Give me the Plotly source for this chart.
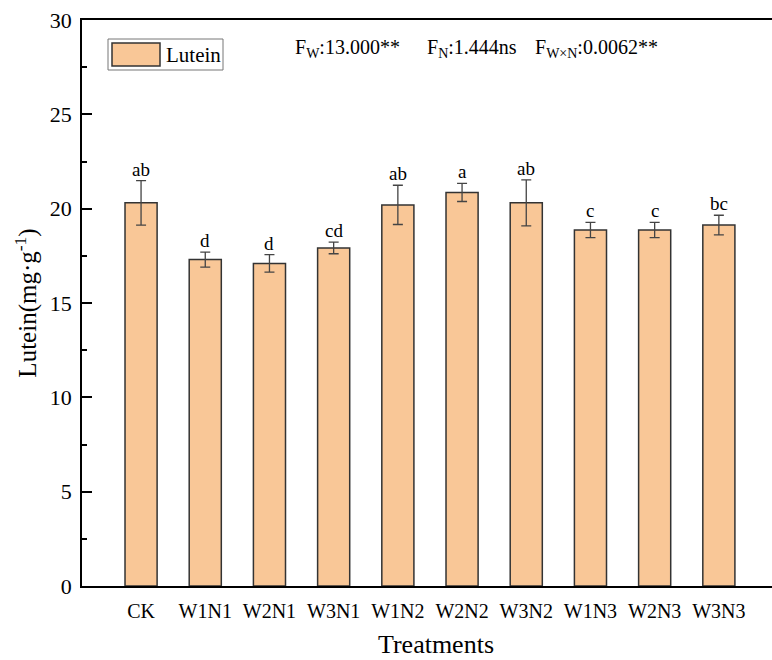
import plotly.graph_objects as go

treatments = ["CK", "W1N1", "W2N1", "W3N1", "W1N2", "W2N2", "W3N2", "W1N3", "W2N3", "W3N3"]
lutein = [20.31, 17.30, 17.10, 17.92, 20.20, 20.86, 20.31, 18.87, 18.87, 19.13]
errors = [1.18, 0.40, 0.46, 0.31, 1.04, 0.48, 1.22, 0.40, 0.40, 0.52]
letters = ["ab", "d", "d", "cd", "ab", "a", "ab", "c", "c", "bc"]
y_ticks = [0, 5, 10, 15, 20, 25, 30]

FONT = "Liberation Serif"
BAR = "#F9C797"
EDGE = "#333333"

W, H = 790, 660
L, R, T, B = 82, 0, 20, 74
pw, ph = W - L - R, H - T - B
unit = 64.2

def px(x):
    return (x - L) / pw

def py(y):
    return (H - B - y) / ph

fig = go.Figure()
fig.add_trace(go.Bar(
    x=list(range(len(treatments))), y=lutein, width=0.5,
    marker=dict(color=BAR, line=dict(color=EDGE, width=1.5)),
    error_y=dict(type="data", array=errors, visible=True, color="#444444", thickness=1.3, width=5),
    showlegend=False,
))

for i, (v, e, s) in enumerate(zip(lutein, errors, letters)):
    fig.add_annotation(x=i, y=v + e, text=s, showarrow=False, yanchor="bottom", xanchor="center",
                       font=dict(family=FONT, size=19, color="black"), yshift=-1)

# legend drawn manually
fig.add_shape(type="rect", xref="paper", yref="paper", x0=px(108), x1=px(223), y0=py(70), y1=py(39),
              line=dict(color="#777777", width=1), fillcolor="white")
fig.add_shape(type="rect", xref="paper", yref="paper", x0=px(112), x1=px(160), y0=py(66), y1=py(43),
              line=dict(color=EDGE, width=1.5), fillcolor=BAR)
fig.add_annotation(xref="paper", yref="paper", x=px(164), y=py(55), text="Lutein", showarrow=False,
                   xanchor="left", yanchor="middle", font=dict(family=FONT, size=21, color="black"))

fstats = ["F<sub>W</sub>:13.000**", "F<sub>N</sub>:1.444ns", "F<sub>W×N</sub>:0.0062**"]
fx = [293, 425, 533]
for t, x in zip(fstats, fx):
    fig.add_annotation(xref="paper", yref="paper", x=px(x), y=py(48), text=t, showarrow=False,
                       xanchor="left", yanchor="middle", font=dict(family=FONT, size=20, color="black"))

fig.update_layout(
    width=W, height=H, margin=dict(l=L, r=R, t=T, b=B, autoexpand=False),
    plot_bgcolor="white", paper_bgcolor="white",
    font=dict(family=FONT, color="black"),
    bargap=0.5,
)
fig.update_xaxes(
    range=[-0.92, -0.92 + pw / unit], tickmode="array", tickvals=list(range(len(treatments))), ticktext=treatments,
    showline=True, linecolor="black", linewidth=1.6, mirror=True, ticks="", showgrid=False, zeroline=False,
    tickfont=dict(family=FONT, size=20, color="black"), ticklabelstandoff=6, automargin=False,
    title=dict(text="Treatments", font=dict(family=FONT, size=26, color="black"), standoff=14),
)
fig.update_yaxes(
    range=[0, 30], tickmode="array", tickvals=y_ticks, ticktext=[str(v) for v in y_ticks],
    showline=True, linecolor="black", linewidth=1.6, mirror=False, ticks="inside", ticklen=10, tickwidth=1.5,
    tickcolor="black", showgrid=False, zeroline=False, automargin=False,
    minor=dict(ticks="inside", ticklen=5, tickwidth=1.5, tickcolor="black", dtick=2.5, tick0=0),
    tickfont=dict(family=FONT, size=22, color="black"), ticklabelstandoff=4,
    title=dict(text="Lutein(mg·g<sup>-1</sup>)", font=dict(family=FONT, size=25, color="black"), standoff=6),
)

fig.write_html("out.html", config={"displayModeBar": False},
               post_script="document.body.style.margin='0';document.body.style.overflow='hidden';")
